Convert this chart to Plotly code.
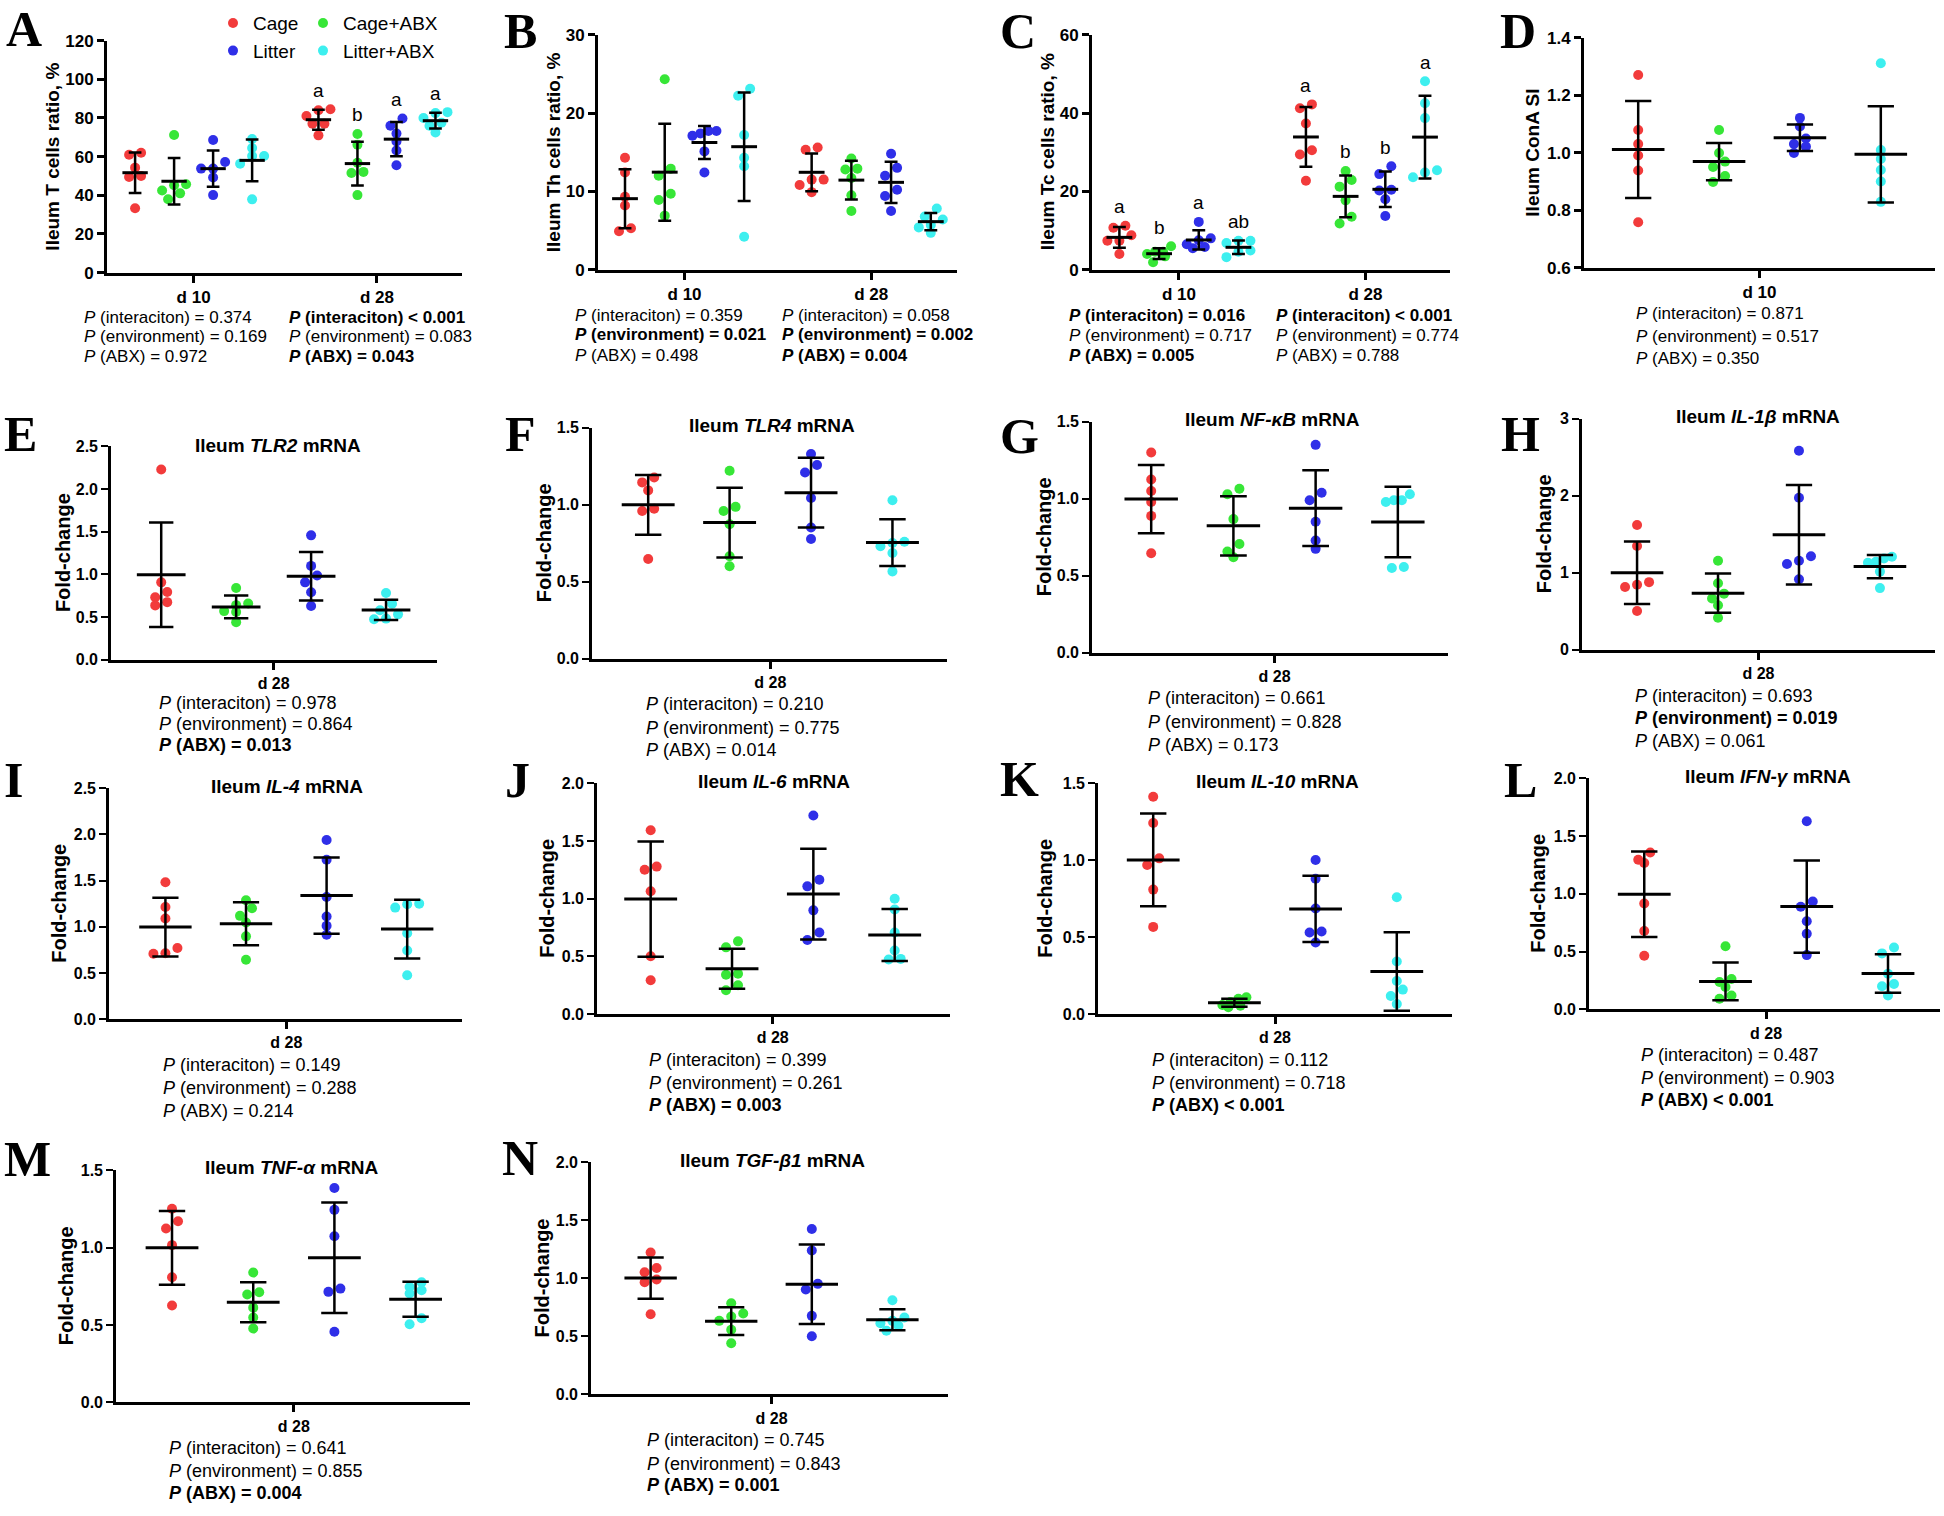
import numpy as np
import plotly.graph_objects as go

W, H = 1944, 1516

GROUPS = ["Cage", "Cage+ABX", "Litter", "Litter+ABX"]
COLORS = ["#F23B3B", "#37E637", "#2F2FE8", "#3DEFEF"]
EFFECTS = ["(interaciton)", "(environment)", "(ABX)"]

# group positions on the x axis (4 groups per sampling day)
POS_TWO = [0, 1, 2, 3, 4.7, 5.7, 6.7, 7.7]
POS_ONE = [0, 1, 2, 3]

# ---------------- data (Cage, Cage+ABX, Litter, Litter+ABX) ----------------
T_cells_d10 = [[61.0, 62.0, 54.3, 50.0, 49.5, 33.3],
               [71.2, 45.7, 45.2, 42.5, 41.0, 38.0],
               [68.6, 57.2, 53.8, 53.8, 49.2, 40.1],
               [69.1, 64.5, 60.3, 60.3, 56.3, 37.9]]
T_cells_d28 = [[84.5, 84.0, 81.0, 77.0, 77.0, 71.0],
               [71.7, 66.2, 56.8, 52.1, 51.5, 40.1],
               [79.7, 76.0, 72.0, 67.8, 63.2, 55.5],
               [82.5, 83.0, 80.0, 77.5, 76.0, 72.5]]
Th_cells_d10 = [[14.3, 12.4, 9.3, 8.2, 5.3, 4.9],
                [24.3, 12.9, 12.0, 9.7, 8.9, 6.9],
                [17.7, 17.7, 17.1, 17.4, 15.1, 12.4],
                [23.1, 22.2, 17.2, 14.3, 13.2, 4.2]]
Th_cells_d28 = [[15.6, 15.3, 11.5, 11.5, 10.8, 9.9],
                [14.2, 12.9, 12.8, 11.7, 9.5, 7.5],
                [14.8, 13.0, 12.0, 10.2, 9.4, 7.5],
                [7.8, 6.8, 6.4, 5.7, 5.4, 4.7]]
Tc_cells_d10 = [[11.2, 10.7, 8.8, 7.4, 7.4, 4.0],
                [6.0, 4.6, 4.6, 4.0, 3.4, 1.9],
                [12.2, 8.0, 7.5, 6.5, 5.8, 5.5],
                [7.4, 7.4, 6.8, 4.9, 4.6, 3.2]]
Tc_cells_d28 = [[42.2, 41.2, 37.3, 30.5, 29.4, 22.7],
                [25.2, 22.9, 21.2, 17.7, 13.5, 11.8],
                [26.4, 24.4, 20.4, 20.2, 18.0, 13.7],
                [48.1, 42.5, 38.7, 25.4, 24.8, 23.6]]
ConA_SI_d10 = [[1.270, 1.079, 1.030, 0.990, 0.938, 0.758],
               [1.079, 0.999, 0.969, 0.950, 0.919, 0.898],
               [1.121, 1.091, 1.049, 1.030, 1.021, 0.999],
               [1.311, 1.009, 0.978, 0.940, 0.900, 0.829]]
TLR2 = [[2.23, 0.907, 0.795, 0.733, 0.675, 0.637],
        [0.84, 0.66, 0.64, 0.57, 0.56, 0.44],
        [1.458, 1.10, 0.988, 0.907, 0.791, 0.629],
        [0.783, 0.656, 0.579, 0.532, 0.482, 0.475]]
TLR4 = [[1.177, 1.145, 1.093, 0.974, 0.959, 0.648],
        [1.22, 0.986, 0.959, 0.873, 0.665, 0.601],
        [1.329, 1.258, 1.209, 1.044, 0.852, 0.777],
        [1.029, 0.760, 0.751, 0.730, 0.687, 0.567]]
NFKB = [[1.30, 1.125, 1.05, 0.979, 0.889, 0.647],
        [1.065, 1.029, 0.868, 0.707, 0.658, 0.621],
        [1.35, 1.039, 0.99, 0.851, 0.729, 0.675],
        [1.029, 0.99, 0.99, 0.979, 0.551, 0.557]]
IL1B = [[1.62, 1.349, 0.879, 0.845, 0.815, 0.504],
        [1.156, 0.866, 0.73, 0.666, 0.58, 0.418],
        [2.586, 1.976, 1.216, 1.156, 1.114, 0.917],
        [1.208, 1.186, 1.144, 1.131, 1.016, 0.802]]
IL4 = [[1.482, 1.214, 1.089, 0.771, 0.707, 0.714],
       [1.286, 1.2, 1.118, 1.046, 0.896, 0.643],
       [1.939, 1.725, 1.321, 1.111, 1.011, 0.914],
       [1.243, 1.25, 1.207, 0.929, 0.743, 0.475]]
IL6 = [[1.592, 1.278, 1.25, 1.064, 0.502, 0.294],
       [0.631, 0.579, 0.351, 0.342, 0.251, 0.208],
       [1.72, 1.164, 1.107, 0.899, 0.708, 0.642],
       [0.999, 0.907, 0.708, 0.551, 0.474, 0.479]]
IL10 = [[1.412, 1.241, 1.012, 0.969, 0.809, 0.567],
        [0.11, 0.10, 0.08, 0.06, 0.055, 0.045],
        [1.001, 0.879, 0.687, 0.537, 0.531, 0.466],
        [0.76, 0.342, 0.216, 0.16, 0.118, 0.066]]
IFNG = [[1.357, 1.294, 1.266, 0.916, 0.677, 0.464],
        [0.546, 0.262, 0.236, 0.193, 0.119, 0.091],
        [1.627, 0.933, 0.888, 0.762, 0.654, 0.469],
        [0.535, 0.484, 0.307, 0.219, 0.199, 0.119]]
TNFA = [[1.251, 1.17, 1.123, 1.016, 0.808, 0.626],
        [0.839, 0.712, 0.697, 0.612, 0.548, 0.477],
        [1.385, 1.244, 1.074, 0.735, 0.714, 0.456],
        [0.776, 0.746, 0.724, 0.703, 0.543, 0.505]]
TGFB1 = [[1.223, 1.09, 1.053, 0.99, 0.967, 0.691],
         [0.785, 0.697, 0.671, 0.634, 0.558, 0.441],
         [1.425, 1.24, 0.953, 0.905, 0.677, 0.501],
         [0.811, 0.663, 0.634, 0.614, 0.592, 0.549]]

# significance letters
T_letters_d28 = ["a", "b", "a", "a"]
Tc_letters_d10 = ["a", "b", "a", "ab"]
Tc_letters_d28 = ["a", "b", "b", "a"]

# P values (interaction, environment, ABX) and bold flags
P_A = [["= 0.374", "= 0.169", "= 0.972"], ["< 0.001", "= 0.083", "= 0.043"]]
BOLD_A = [[0, 0, 0], [1, 0, 1]]
P_B = [["= 0.359", "= 0.021", "= 0.498"], ["= 0.058", "= 0.002", "= 0.004"]]
BOLD_B = [[0, 1, 0], [0, 1, 1]]
P_C = [["= 0.016", "= 0.717", "= 0.005"], ["< 0.001", "= 0.774", "= 0.788"]]
BOLD_C = [[1, 0, 1], [1, 0, 0]]
P_D = [["= 0.871", "= 0.517", "= 0.350"]]
BOLD_D = [[0, 0, 0]]
P_E = [["= 0.978", "= 0.864", "= 0.013"]]
BOLD_E = [[0, 0, 1]]
P_F = [["= 0.210", "= 0.775", "= 0.014"]]
BOLD_F = [[0, 0, 0]]
P_G = [["= 0.661", "= 0.828", "= 0.173"]]
BOLD_G = [[0, 0, 0]]
P_H = [["= 0.693", "= 0.019", "= 0.061"]]
BOLD_H = [[0, 1, 0]]
P_I = [["= 0.149", "= 0.288", "= 0.214"]]
BOLD_I = [[0, 0, 0]]
P_J = [["= 0.399", "= 0.261", "= 0.003"]]
BOLD_J = [[0, 0, 1]]
P_K = [["= 0.112", "= 0.718", "< 0.001"]]
BOLD_K = [[0, 0, 1]]
P_L = [["= 0.487", "= 0.903", "< 0.001"]]
BOLD_L = [[0, 0, 1]]
P_M = [["= 0.641", "= 0.855", "= 0.004"]]
BOLD_M = [[0, 0, 1]]
P_N = [["= 0.745", "= 0.843", "= 0.001"]]
BOLD_N = [[0, 0, 1]]

SANS = "Liberation Sans, Arial, sans-serif"
SERIF = "Liberation Serif, Times New Roman, serif"

# ---------------- panel layout (pixel geometry) ----------------
PANELS = [
    dict(tag="A", top=True, days=["d 10", "d 28"], data=[T_cells_d10, T_cells_d28], letters=[None, T_letters_d28],
         p=P_A, bold=BOLD_A, yr=(0, 120), dt=20, fmt="d", ytitle="Ileum T cells ratio, %",
         box=(107, 462, 32, 267), xr=(-0.72, 8.38), yt_x=53, tag_xy=(4, 20), p_left=[82, 287], p_y=[312, 332, 352]),
    dict(tag="B", top=True, days=["d 10", "d 28"], data=[Th_cells_d10, Th_cells_d28], letters=[None, None],
         p=P_B, bold=BOLD_B, yr=(0, 30), dt=10, fmt="d", ytitle="Ileum Th cells ratio, %",
         box=(598, 957, 26, 264), xr=(-0.68, 8.36), yt_x=553, tag_xy=(502, 22), p_left=[573, 780], p_y=[310, 330, 351]),
    dict(tag="C", top=True, days=["d 10", "d 28"], data=[Tc_cells_d10, Tc_cells_d28], letters=[Tc_letters_d10, Tc_letters_d28],
         p=P_C, bold=BOLD_C, yr=(0, 60), dt=20, fmt="d", ytitle="Ileum Tc cells ratio, %",
         box=(1092, 1450, 26, 264), xr=(-0.69, 8.33), yt_x=1047, tag_xy=(998, 22), p_left=[1067, 1274], p_y=[310, 331, 351]),
    dict(tag="D", top=True, days=["d 10"], data=[ConA_SI_d10], letters=[None],
         p=P_D, bold=BOLD_D, yr=(0.6, 1.4), dt=0.2, fmt=".1f", ytitle="Ileum ConA SI",
         box=(1584, 1935, 29, 262), xr=(-0.67, 3.67), yt_x=1533, tag_xy=(1498, 22), p_left=[1634], p_y=[308, 332, 354]),
    dict(tag="E", gene="TLR2", data=[TLR2], p=P_E, bold=BOLD_E, yr=(0, 2.5), dt=0.5, fmt=".1f",
         box=(111, 437, 443, 659), xr=(-0.67, 3.68), yt_x=63, tag_xy=(2, 430), title_xy=(278, 442), p_left=[157], p_y=[703, 724, 745]),
    dict(tag="F", gene="TLR4", data=[TLR4], p=P_F, bold=BOLD_F, yr=(0, 1.5), dt=0.5, fmt=".1f",
         box=(592, 947, 424, 658), xr=(-0.69, 3.67), yt_x=544, tag_xy=(503, 430), title_xy=(772, 422), p_left=[644], p_y=[704, 728, 750]),
    dict(tag="G", gene="NF-κB", data=[NFKB], p=P_G, bold=BOLD_G, yr=(0, 1.5), dt=0.5, fmt=".1f",
         box=(1092, 1448, 418, 652), xr=(-0.72, 3.61), yt_x=1044, tag_xy=(998, 432), title_xy=(1272, 416), p_left=[1146], p_y=[698, 722, 745]),
    dict(tag="H", gene="IL-1β", data=[IL1B], p=P_H, bold=BOLD_H, yr=(0, 3), dt=1, fmt="d",
         box=(1582, 1935, 415, 649), xr=(-0.68, 3.68), yt_x=1544, tag_xy=(1499, 430), title_xy=(1758, 413), p_left=[1633], p_y=[696, 718, 741]),
    dict(tag="I", gene="IL-4", data=[IL4], p=P_I, bold=BOLD_I, yr=(0, 2.5), dt=0.5, fmt=".1f",
         box=(109, 462, 789, 1023), xr=(-0.70, 3.68), yt_x=59, tag_xy=(2, 781), title_xy=(287, 787), p_left=[161], p_y=[1069, 1093, 1116]),
    dict(tag="J", gene="IL-6", data=[IL6], p=P_J, bold=BOLD_J, yr=(0, 2), dt=0.5, fmt=".1f",
         box=(597, 950, 784, 1018), xr=(-0.66, 3.68), yt_x=547, tag_xy=(503, 781), title_xy=(774, 782), p_left=[647], p_y=[1064, 1088, 1110]),
    dict(tag="K", gene="IL-10", data=[IL10], p=P_K, bold=BOLD_K, yr=(0, 1.5), dt=0.5, fmt=".1f",
         box=(1098, 1452, 784, 1018), xr=(-0.68, 3.68), yt_x=1045, tag_xy=(998, 780), title_xy=(1277, 782), p_left=[1150], p_y=[1064, 1088, 1110]),
    dict(tag="L", gene="IFN-γ", data=[IFNG], p=P_L, bold=BOLD_L, yr=(0, 2), dt=0.5, fmt=".1f",
         box=(1589, 1940, 779, 1013), xr=(-0.68, 3.64), yt_x=1538, tag_xy=(1502, 781), title_xy=(1768, 777), p_left=[1639], p_y=[1059, 1083, 1105]),
    dict(tag="M", gene="TNF-α", data=[TNFA], p=P_M, bold=BOLD_M, yr=(0, 1.5), dt=0.5, fmt=".1f",
         box=(116, 470, 1176, 1411), xr=(-0.69, 3.67), yt_x=66, tag_xy=(2, 1165), title_xy=(292, 1173), p_left=[167], p_y=[1457, 1481, 1503]),
    dict(tag="N", gene="TGF-β1", data=[TGFB1], p=P_N, bold=BOLD_N, yr=(0, 2), dt=0.5, fmt=".1f",
         box=(591, 948, 1168, 1403), xr=(-0.74, 3.69), yt_x=542, tag_xy=(500, 1164), title_xy=(772, 1166), p_left=[645], p_y=[1449, 1473, 1495]),
]


def swarm_offsets(vals, sy, diam):
    """Horizontal pixel offsets so dots with similar values sit side by side."""
    n = len(vals)
    order = sorted(range(n), key=lambda i: -vals[i])
    rows = []
    for i in order:
        if rows and (vals[rows[-1][0]] - vals[i]) * sy < 0.8 * diam:
            rows[-1].append(i)
        else:
            rows.append([i])
    offs = [0.0] * n
    for row in rows:
        m = len(row)
        step = diam * 1.2 if m <= 3 else diam * 2.4 / (m - 1)
        for j, i in enumerate(row):
            offs[i] = ((m - 1) / 2 - j) * step
    return offs


fig = go.Figure()
annotations = []
axes = {}

for k, P in enumerate(PANELS, start=1):
    sfx = "" if k == 1 else str(k)
    top = P.get("top", False)
    x0, x1, yt, yb = P["box"]
    lo, hi = P["yr"]
    xr0, xr1 = P["xr"]
    sx = (x1 - x0) / (xr1 - xr0)
    sy = (yb - yt) / (hi - lo)
    diam = 10
    pos = POS_TWO if len(P["data"]) == 2 else POS_ONE
    mean_len = 0.65 * sx
    letters = P.get("letters", [None] * len(P["data"]))

    gx = [[] for _ in range(4)]
    gy = [[] for _ in range(4)]
    mx, my, ms = [], [], []
    for d, day_data in enumerate(P["data"]):
        for g in range(4):
            vals = day_data[g]
            p = pos[d * 4 + g]
            offs = swarm_offsets(vals, sy, diam)
            gx[g] += [p + o / sx for o in offs]
            gy[g] += list(vals)
            m = float(np.mean(vals))
            s = float(np.std(vals, ddof=1))
            mx.append(p)
            my.append(m)
            ms.append(s)
            if letters[d]:
                annotations.append(dict(
                    x=p, y=max(max(vals), m + s), xref="x" + sfx, yref="y" + sfx,
                    text=letters[d][g], showarrow=False, yshift=19, yanchor="middle",
                    font=dict(family=SANS, size=19, color="black")))

    for g in range(4):
        fig.add_trace(go.Scatter(
            x=gx[g], y=gy[g], mode="markers", name=GROUPS[g],
            xaxis="x" + sfx, yaxis="y" + sfx,
            marker=dict(color=COLORS[g], size=diam, line=dict(width=0)),
            showlegend=(k == 1), legend="legend" if g in (0, 2) else "legend2",
            cliponaxis=False, hoverinfo="skip"))
    fig.add_trace(go.Scatter(
        x=mx, y=my, mode="markers", xaxis="x" + sfx, yaxis="y" + sfx,
        marker=dict(symbol="line-ew", size=mean_len / 1.4, color="black",
                    line=dict(color="black", width=3)),
        error_y=dict(type="data", array=ms, visible=True, color="black",
                     thickness=2.5, width=mean_len / 4),
        showlegend=False, cliponaxis=False, hoverinfo="skip"))

    if len(P["data"]) == 2:
        centers = [float(np.mean(pos[0:4])), float(np.mean(pos[4:8]))]
        days = P["days"]
    else:
        centers = [float(np.mean(pos))]
        days = P.get("days", ["d 28"])

    axes["xaxis" + sfx] = dict(
        domain=[x0 / W, x1 / W], range=[xr0, xr1], anchor="y" + sfx,
        showline=True, linecolor="black", linewidth=3, showgrid=False, zeroline=False,
        ticks="outside", ticklen=7, tickwidth=3 if top else 2.5, tickcolor="black",
        tickvals=centers, ticktext=days,
        tickfont=dict(family=SANS, size=17 if top else 16, color="black", weight="bold"),
        fixedrange=True)
    yticks = [round(v, 6) for v in np.arange(lo, hi + P["dt"] / 2, P["dt"])]
    axes["yaxis" + sfx] = dict(
        domain=[1 - yb / H, 1 - yt / H], range=[lo, hi], anchor="x" + sfx,
        showline=True, linecolor="black", linewidth=3 if top else 2.6, showgrid=False, zeroline=False,
        ticks="outside", ticklen=7, tickwidth=2.5 if top else 2.2, tickcolor="black",
        tickvals=yticks, tickformat=P["fmt"],
        tickfont=dict(family=SANS, size=17 if top else 16, color="black", weight="bold"),
        fixedrange=True)

    # y-axis title
    annotations.append(dict(
        x=P["yt_x"] / W, y=1 - (yt + yb) / 2 / H, xref="paper", yref="paper",
        text="<b>%s</b>" % (P["ytitle"] if top else "Fold-change"), textangle=-90,
        showarrow=False, xanchor="center", yanchor="middle",
        font=dict(family=SANS, size=19 if top else 20, color="black")))
    # panel tag
    tx, ty = P["tag_xy"]
    annotations.append(dict(
        x=tx / W, y=1 - ty / H, xref="paper", yref="paper", text="<b>%s</b>" % P["tag"],
        showarrow=False, xanchor="left", yanchor="middle",
        font=dict(family=SERIF, size=50, color="black")))
    # gene title
    if not top:
        tx, ty = P["title_xy"]
        annotations.append(dict(
            x=tx / W, y=1 - ty / H, xref="paper", yref="paper",
            text="<b>Ileum <i>%s</i> mRNA</b>" % P["gene"],
            showarrow=False, xanchor="center", yanchor="middle",
            font=dict(family=SANS, size=19, color="black")))
    # P-value lines
    for c, left in enumerate(P["p_left"]):
        for r in range(3):
            txt = "<i>P</i> %s %s" % (EFFECTS[r], P["p"][c][r].replace("<", "&lt;"))
            if P["bold"][c][r]:
                txt = "<b>" + txt + "</b>"
            annotations.append(dict(
                x=left / W, y=1 - P["p_y"][r] / H, xref="paper", yref="paper", text=txt,
                showarrow=False, xanchor="left", yanchor="middle",
                font=dict(family=SANS, size=17 if top else 18, color="black")))

legend_common = dict(yanchor="top", xanchor="left", bgcolor="rgba(0,0,0,0)",
                     font=dict(family=SANS, size=19, color="black"), itemsizing="trace")
fig.update_layout(
    width=W, height=H, margin=dict(l=0, r=0, t=0, b=0),
    paper_bgcolor="white", plot_bgcolor="white", showlegend=True,
    legend=dict(x=213 / W, y=1 + 5 / H, **legend_common),
    legend2=dict(x=303 / W, y=1 + 5 / H, **legend_common),
    annotations=annotations, **axes)

fig.write_html("out.html", config={"displayModeBar": False},
               post_script="document.body.style.margin='0';")
